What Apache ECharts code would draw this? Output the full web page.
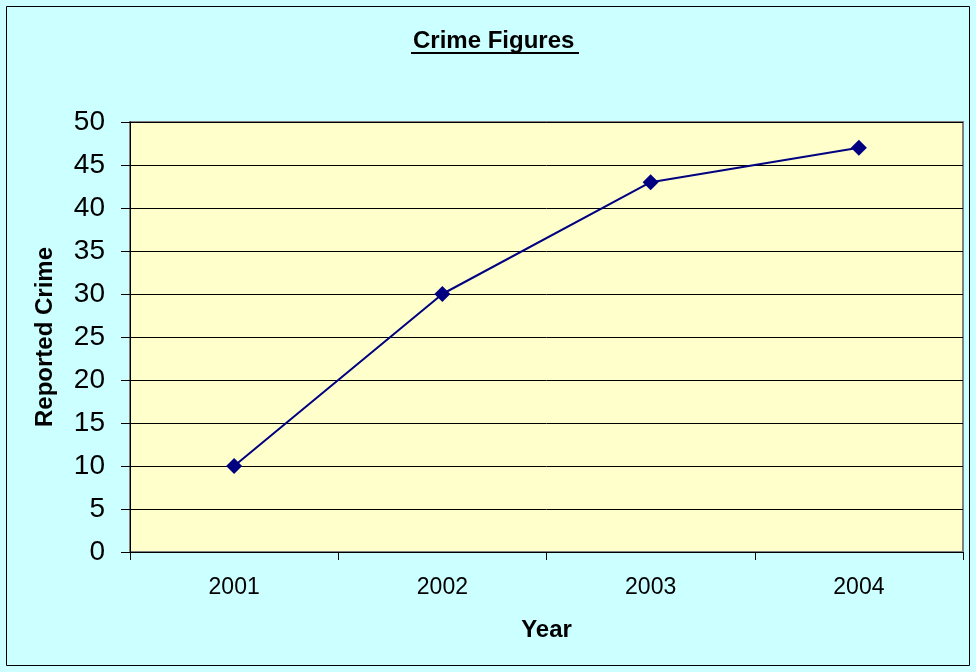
<!DOCTYPE html>
<html>
<head>
<meta charset="utf-8">
<script src="https://cdn.jsdelivr.net/npm/echarts@6/dist/echarts.min.js"></script>
<style>
  html, body { margin: 0; padding: 0; background: #fff; }
  #chart { width: 976px; height: 672px; }
</style>
</head>
<body>
<div id="chart"></div>
<script>
var years = ['2001', '2002', '2003', '2004'];
var crimes = [10, 30, 43, 47];

var chart = echarts.init(document.getElementById('chart'));
var option = {
    backgroundColor: '#CCFFFF',
    animation: false,
    title: {
        text: 'Crime Figures',
        left: 413,
        top: 29,
        padding: 0,
        textStyle: { fontFamily: 'Arial, Liberation Sans', fontSize: 24, fontWeight: 'bold', color: '#000' }
    },
    graphic: [
        {
            type: 'rect',
            shape: { x: 6.5, y: 6.5, width: 963, height: 659 },
            style: { fill: 'none', stroke: '#000', lineWidth: 1 },
            silent: true
        },
        {
            type: 'line',
            shape: { x1: 411, y1: 53, x2: 579, y2: 53 },
            style: { stroke: '#000', lineWidth: 2 },
            silent: true
        }
    ],
    grid: {
        left: 130,
        right: 13,
        top: 122,
        bottom: 120,
        show: true,
        backgroundColor: '#FFFFCC',
        borderColor: '#808080',
        borderWidth: 2
    },
    xAxis: {
        type: 'category',
        data: years,
        boundaryGap: true,
        name: 'Year',
        nameLocation: 'middle',
        nameGap: 66,
        nameTextStyle: { fontFamily: 'Arial, Liberation Sans', fontSize: 24, fontWeight: 'bold', color: '#000' },
        axisLine: { lineStyle: { color: '#000', width: 1 } },
        axisTick: { show: true, length: 8, alignWithLabel: false, lineStyle: { color: '#000' } },
        axisLabel: { fontFamily: 'Arial, Liberation Sans', fontSize: 23, color: '#000', margin: 24 }
    },
    yAxis: {
        type: 'value',
        min: 0,
        max: 50,
        interval: 5,
        name: 'Reported Crime',
        nameLocation: 'middle',
        nameGap: 73,
        nameTextStyle: { fontFamily: 'Arial, Liberation Sans', fontSize: 24, fontWeight: 'bold', color: '#000' },
        axisLine: { show: true, lineStyle: { color: '#000', width: 1 } },
        axisTick: { show: true, length: 9, lineStyle: { color: '#000' } },
        axisLabel: { fontFamily: 'Arial, Liberation Sans', fontSize: 28, color: '#000', margin: 25 },
        splitLine: { show: true, lineStyle: { color: '#000', width: 1 } }
    },
    series: [
        {
            type: 'line',
            data: crimes,
            symbol: 'diamond',
            symbolSize: [16, 16],
            itemStyle: { color: '#000080' },
            lineStyle: { color: '#000080', width: 2 }
        }
    ]
};
chart.setOption(option);
window.onresize = chart.resize;
</script>
</body>
</html>
